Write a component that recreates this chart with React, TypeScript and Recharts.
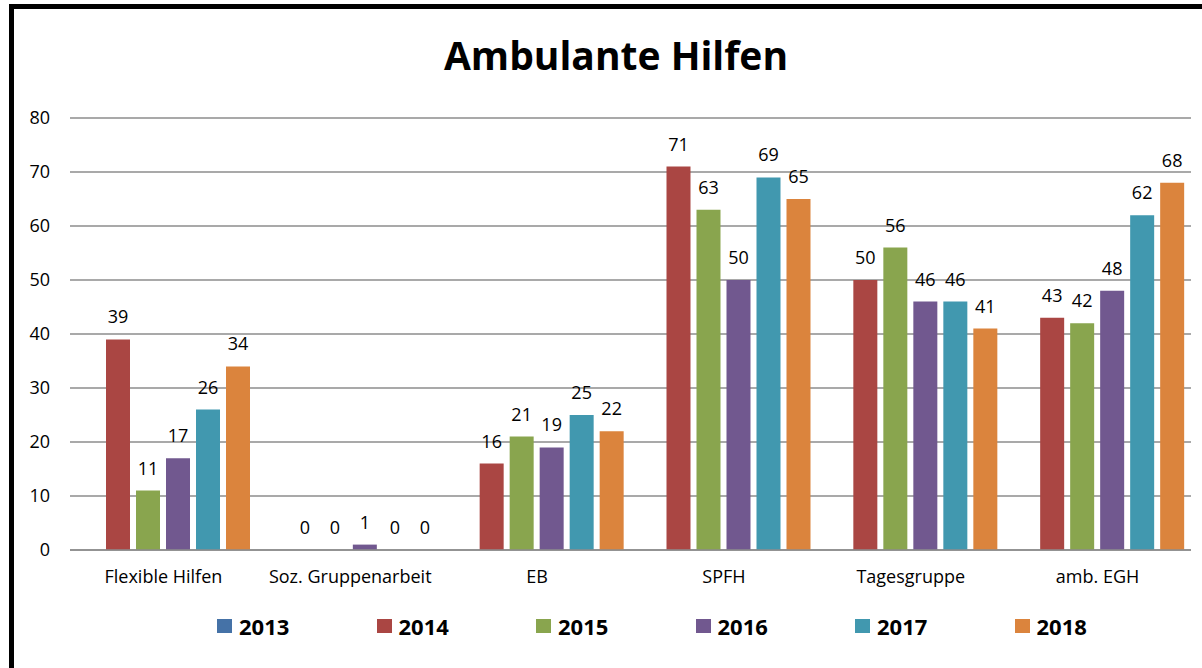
import { BarChart, Bar, XAxis, YAxis, CartesianGrid, Legend, LabelList } from 'recharts';

const categories = ['Flexible Hilfen', 'Soz. Gruppenarbeit', 'EB', 'SPFH', 'Tagesgruppe', 'amb. EGH'];
const years = ['2013', '2014', '2015', '2016', '2017', '2018'];
const y2013: (number | null)[] = [null, null, null, null, null, null];
const y2014 = [39, 0, 16, 71, 50, 43];
const y2015 = [11, 0, 21, 63, 56, 42];
const y2016 = [17, 1, 19, 50, 46, 48];
const y2017 = [26, 0, 25, 69, 46, 62];
const y2018 = [34, 0, 22, 65, 41, 68];
const yTicks = [0, 10, 20, 30, 40, 50, 60, 70, 80];

const colors = ['#4572a7', '#aa4643', '#89a54e', '#71588f', '#4198af', '#db843d'];
const series = [y2013, y2014, y2015, y2016, y2017, y2018];

const data = categories.map((name, i) => {
  const row: any = { name };
  years.forEach((y, s) => {
    row['y' + y] = series[s][i];
  });
  return row;
});

const font = '"Open Sans", sans-serif';

// draws the value above the bar, zeros included
const renderValue = (props: any) => {
  const { x, y, width, value } = props;
  if (value == null) return null;
  return (
    <text x={x + width / 2} y={y - 16} textAnchor="middle" fill="#000" fontSize={18} fontFamily={font}>
      {value}
    </text>
  );
};

const LegendRow = () => (
  <div style={{ display: 'flex', paddingLeft: 217, height: 36, alignItems: 'center' }}>
    {years.map((y, i) => (
      <div key={y} style={{ width: 159.5, display: 'flex', alignItems: 'center' }}>
        <span style={{ width: 15, height: 14, background: colors[i], marginRight: 7 }} />
        <span style={{ fontFamily: font, fontWeight: 700, fontSize: 22, color: '#000' }}>{y}</span>
      </div>
    ))}
  </div>
);

export default function App() {
  return (
    <div style={{ position: 'absolute', left: 0, top: 0, width: 1202, height: 668, overflow: 'hidden', background: '#fff' }}>
      <div style={{ position: 'absolute', left: 9, top: 4, width: 1300, height: 800, border: '5px solid #000', boxSizing: 'border-box' }} />
      <div style={{ position: 'absolute', left: 0, top: 28, width: 1232, textAlign: 'center', fontFamily: font, fontWeight: 700, fontSize: 39, color: '#000' }}>
        Ambulante Hilfen
      </div>
      <div style={{ position: 'absolute', left: 0, top: 0 }}>
        <BarChart width={1202} height={668} data={data} margin={{ top: 118, right: 11, left: 0, bottom: 24 }} barCategoryGap={6} barGap={6}>
          <CartesianGrid vertical={false} stroke="#8c8c8c" strokeWidth={1.5} />
          <XAxis
            dataKey="name"
            height={58}
            tickSize={0}
            tickMargin={20}
            axisLine={{ stroke: '#8c8c8c', strokeWidth: 1.5 }}
            tick={{ fill: '#000', fontSize: 18, fontFamily: font }}
          />
          <YAxis
            width={70}
            domain={[0, 80]}
            ticks={yTicks}
            tickSize={0}
            tickMargin={20}
            axisLine={false}
            tick={{ fill: '#000', fontSize: 18, fontFamily: font }}
          />
          <Legend verticalAlign="bottom" wrapperStyle={{ left: 0, width: 1202 }} content={() => <LegendRow />} />
          {years.map((y, i) => (
            <Bar key={y} dataKey={'y' + y} fill={colors[i]} minPointSize={0.01} isAnimationActive={false}>
              {i > 0 && <LabelList dataKey={'y' + y} content={renderValue} />}
            </Bar>
          ))}
        </BarChart>
      </div>
    </div>
  );
}
